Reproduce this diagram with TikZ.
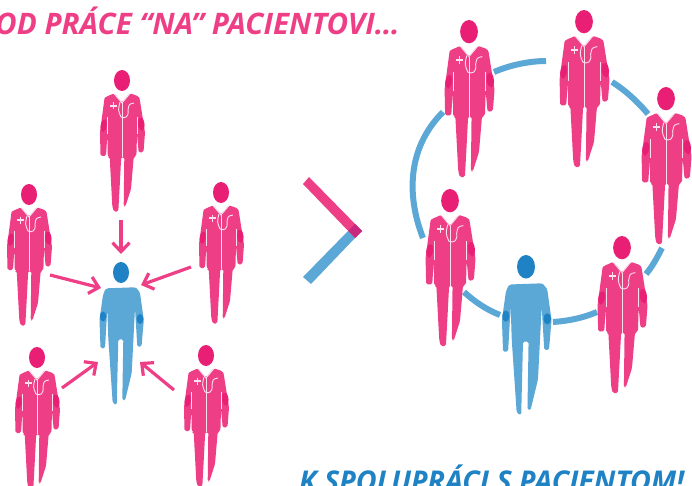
\documentclass[tikz,border=0pt]{standalone}
\usepackage{fontspec}
\setmainfont{Open Sans}
\usetikzlibrary{arrows.meta}
\definecolor{dpink}{HTML}{EE3F86}
\definecolor{dhead}{HTML}{E91E75}
\definecolor{pblue}{HTML}{5BA7D6}
\definecolor{phead}{HTML}{1E82C4}
\definecolor{mixc}{HTML}{C9287F}
\tikzset{
  x=1pt,y=-1pt,
  link/.style={draw=dpink,line width=3.2pt,-{Straight Barb[length=9pt,width=17pt,line width=3.2pt]}},
  ring/.style={draw=pblue,line width=6pt},
  steth/.style={draw=white!85!dpink,line width=.9pt},
  doctor/.pic={
    \fill[dpink,rounded corners=1.6pt] (-7.7,23.3) -- (-15.7,26.7) .. controls (-17.5,28) .. (-18.3,34.3) -- (-22,62) -- (-21.5,86) -- (-16,86) -- (-14.6,64.3) -- (-14.2,87) -- (-12.3,87) -- (-9.7,136) -- (-8.3,141.5) -- (-3.7,141.5) -- (-2.3,116) -- (-0.8,87) -- (2.3,87) -- (1.7,136) -- (3.3,136.7) -- (9,119) -- (11.7,87) -- (14.4,86) -- (15,64) -- (16.7,82.7) -- (21.5,82) -- (23,62.7) -- (18.3,32.7) .. controls (17.5,28) .. (16,26) -- (7.7,23.3) -- (0,32.7) -- cycle;
    \fill[dhead] (0,10.5) ellipse [x radius=8,y radius=10.5];
    \fill[dhead] (-19,50) .. controls (-22.3,54) and (-22.3,60) .. (-19,62) .. controls (-15,60) and (-14.5,54) .. (-16,50) -- cycle;
    \fill[dhead] (17,48) .. controls (15,54) and (15.5,59) .. (20.5,61) .. controls (23.5,58) and (23,52) .. (20.5,48) -- cycle;
    \draw[steth] (0,33) -- (0,87);
    \draw[steth,line width=.7pt] (-14.4,47) -- (-14.4,64);
    \draw[steth,line width=.7pt] (15,47) -- (15,64);
    \draw[steth] (-8,23.5) -- (0,33) -- (8,23.5);
    \draw[steth] (-2,32) .. controls (-4,40) .. (-1,47) .. controls (3,49) and (7,47) .. (6,40) .. controls (7,34) .. (12,33);
    \draw[steth,line width=1.3pt] (-12,36) -- (-5,36) (-8.5,32.5) -- (-8.5,39.5);
  },
  patient/.pic={
    \fill[pblue,rounded corners=1.6pt] (-14.3,26.3) .. controls (-16,28) .. (-18,33) -- (-21.5,58) -- (-20.5,86.3) -- (-16,86.3) -- (-13.7,46) -- (-12.7,76.3) -- (-8.3,141) -- (-4.3,143) -- (-2.7,77.3) -- (2.3,77.3) -- (1.3,138) -- (4,138.7) -- (10.7,111) -- (14,46) -- (16.3,84.7) -- (20.5,84.7) -- (22.8,58) -- (19,31) .. controls (17,27) .. (14,25.3) -- cycle;
    \fill[phead] (0,10.5) ellipse [x radius=8,y radius=10.5];
    \fill[phead] (-18,54.5) ellipse [x radius=3.2,y radius=5];
    \fill[phead] (19,57) ellipse [x radius=3.4,y radius=5];
  },
  title/.style={inner sep=0pt,anchor=base west,font=\fontsize{29.6}{32}\selectfont\bfseries\itshape},
  titleb/.style={inner sep=0pt,anchor=base west,font=\fontsize{28.6}{32}\selectfont\bfseries\itshape},
}
\begin{document}
\begin{tikzpicture}
\useasboundingbox (0,0) rectangle (692,486);
\clip (0,0) rectangle (692,486);
\fill[white] (0,0) rectangle (692,486);
% left group
\pic at (122,70) {doctor};
\pic at (29,184) {doctor};
\pic at (221,182) {doctor};
\pic at (37,347) {doctor};
\pic at (206,345) {doctor};
\pic at (121,262) {patient};
% arrows
\coordinate (a1) at (121,220); \coordinate (b1) at (121,254);
\coordinate (a2) at (50,275);  \coordinate (b2) at (101,288);
\coordinate (a3) at (191,267); \coordinate (b3) at (141,285);
\coordinate (a4) at (62,388);  \coordinate (b4) at (98,362);
\coordinate (a5) at (174,390); \coordinate (b5) at (140,362);
\draw[link] (a1) -- (b1);
\draw[link] (a2) -- (b2);
\draw[link] (a3) -- (b3);
\draw[link] (a4) -- (b4);
\draw[link] (a5) -- (b5);
% chevron
\fill[dpink] (309,177) -- (303,184) -- (355,238) -- (362,231) -- cycle;
\fill[pblue] (303,277) -- (311,284) -- (355,238) -- (348,231) -- cycle;
\fill[mixc] (348,231) -- (355,238) -- (362,231) -- (355,224) -- cycle;
% ring
\draw[ring] (443,112) .. controls (405,150) and (408,200) .. (423,238);
\draw[ring] (494,72) .. controls (510,65) and (530,61) .. (546,61);
\draw[ring] (612,82) .. controls (625,90) and (638,102) .. (648,114);
\draw[ring] (662,248) .. controls (657,258) and (652,267) .. (646,274);
\draw[ring] (597,312) .. controls (583,318) and (568,321) .. (553,322);
\draw[ring] (500,315) .. controls (487,310) and (475,302) .. (464,292);
% right group
\pic[scale=1.11] at (469,20) {doctor};
\pic[scale=1.11] at (584,10) {doctor};
\pic[scale=1.11] at (666,87) {doctor};
\pic[scale=1.11] at (450,189) {doctor};
\pic[scale=1.11] at (622,236) {doctor};
\pic[scale=1.12] at (526,255) {patient};
% texts
\node[title,text=dpink] (t1) at (-5,35) {OD PRÁCE “NA” PACIENTOVI…};
\node[titleb,text=phead] (t2) at (299,491) {K SPOLUPRÁCI S PACIENTOM!};
\end{tikzpicture}
\end{document}
